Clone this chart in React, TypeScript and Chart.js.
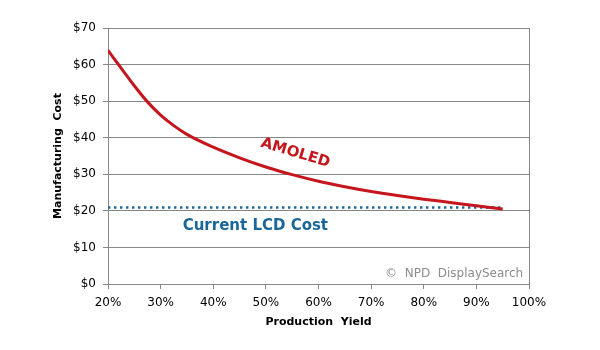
import React, { useEffect, useRef } from "react";
import { Chart, registerables } from "chart.js";

Chart.register(...registerables);

// Data
const amoledYield = [20, 22.5, 25, 27.5, 30, 32.5, 35, 40, 45, 50, 55, 60, 65, 70, 75, 80, 85, 90, 95];
const amoledCost = [63.9, 59.0, 54.2, 49.8, 46.2, 43.3, 40.9, 37.4, 34.5, 32.0, 29.9, 28.1, 26.6, 25.3, 24.2, 23.2, 22.3, 21.4, 20.5];
const lcdYield = [20, 95];
const lcdCost = [20.9, 20.9];

const xTicks = [20, 30, 40, 50, 60, 70, 80, 90, 100];
const yTicks = [0, 10, 20, 30, 40, 50, 60, 70];

const amoledLabel = "AMOLED";
const lcdLabel = "Current LCD Cost";
const creditLabel = "©  NPD  DisplaySearch";
const xTitle = "Production  Yield";
const yTitle = "Manufacturing  Cost";

const RED = "#C4161C";
const BLUE = "#1B6799";
const GRID = "#878787";
const FONT = "'DejaVu Sans', Verdana, sans-serif";

const annotations = {
  id: "annotations",
  afterDraw(chart: any) {
    const { ctx, chartArea, scales } = chart;
    const xs = scales.x;
    const ys = scales.y;
    ctx.save();
    // right border of plot
    ctx.strokeStyle = GRID;
    ctx.lineWidth = 1;
    ctx.beginPath();
    ctx.moveTo(Math.round(chartArea.right) + 0.5, chartArea.top);
    ctx.lineTo(Math.round(chartArea.right) + 0.5, chartArea.bottom);
    ctx.stroke();

    // AMOLED label
    ctx.save();
    ctx.translate(xs.getPixelForValue(55.6), ys.getPixelForValue(35.8));
    ctx.rotate((16.7 * Math.PI) / 180);
    ctx.fillStyle = RED;
    ctx.font = `bold 15px ${FONT}`;
    ctx.textAlign = "center";
    ctx.textBaseline = "middle";
    ctx.fillText(amoledLabel, 0, 0);
    ctx.restore();

    // LCD label
    ctx.fillStyle = BLUE;
    ctx.font = `bold 15px ${FONT}`;
    ctx.textAlign = "center";
    ctx.textBaseline = "middle";
    ctx.fillText(lcdLabel, xs.getPixelForValue(48), ys.getPixelForValue(15.9));

    // credit
    ctx.fillStyle = "#8C8C8C";
    ctx.font = `12px ${FONT}`;
    ctx.textAlign = "right";
    ctx.fillText(creditLabel, xs.getPixelForValue(98.9), ys.getPixelForValue(2.8));

    // axis titles
    ctx.fillStyle = "#000";
    ctx.font = `bold 11px ${FONT}`;
    ctx.textAlign = "center";
    ctx.fillText(xTitle, (chartArea.left + chartArea.right) / 2, 322);
    ctx.save();
    ctx.translate(58, (chartArea.top + chartArea.bottom) / 2);
    ctx.rotate(-Math.PI / 2);
    ctx.fillText(yTitle, 0, 0);
    ctx.restore();
    ctx.restore();
  },
};

export default function App() {
  const ref = useRef<HTMLCanvasElement>(null);
  useEffect(() => {
    document.body.style.margin = "0";
    const chart = new Chart(ref.current!, {
      type: "line",
      data: {
        datasets: [
          {
            label: "AMOLED",
            data: amoledYield.map((x, i) => ({ x, y: amoledCost[i] })),
            borderColor: RED,
            borderWidth: 3,
            pointRadius: 0,
            cubicInterpolationMode: "monotone",
            fill: false,
          },
          {
            label: "Current LCD Cost",
            data: lcdYield.map((x, i) => ({ x, y: lcdCost[i] })),
            borderColor: BLUE,
            borderWidth: 2.4,
            borderDash: [2.4, 3.6],
            pointRadius: 0,
            fill: false,
          },
        ],
      },
      options: {
        animation: false,
        responsive: false,
        maintainAspectRatio: false,
        layout: { padding: { top: 28, right: 71, bottom: 0, left: 0 } },
        plugins: { legend: { display: false }, tooltip: { enabled: false } },
        scales: {
          x: {
            type: "linear",
            min: 20,
            max: 100,
            afterBuildTicks: (s: any) => {
              s.ticks = xTicks.map((v) => ({ value: v }));
            },
            afterFit: (s: any) => {
              s.height = 66;
            },
            grid: { drawOnChartArea: false, drawTicks: true, tickLength: 5, color: GRID },
            border: { color: GRID, width: 1 },
            ticks: {
              color: "#000",
              font: { family: FONT, size: 12 },
              padding: 7,
              maxRotation: 0,
              callback: (v: any) => `${v}%`,
            },
          },
          y: {
            min: 0,
            max: 70,
            afterBuildTicks: (s: any) => {
              s.ticks = yTicks.map((v) => ({ value: v }));
            },
            afterFit: (s: any) => {
              s.width = 108;
            },
            grid: { color: GRID, tickLength: 5 },
            border: { color: GRID, width: 1 },
            ticks: {
              color: "#000",
              font: { family: FONT, size: 12 },
              padding: 7,
              callback: (v: any) => `$${v}`,
            },
          },
        },
      },
      plugins: [annotations],
    });
    return () => chart.destroy();
  }, []);
  return <canvas ref={ref} width={600} height={350} style={{ display: "block" }} />;
}
